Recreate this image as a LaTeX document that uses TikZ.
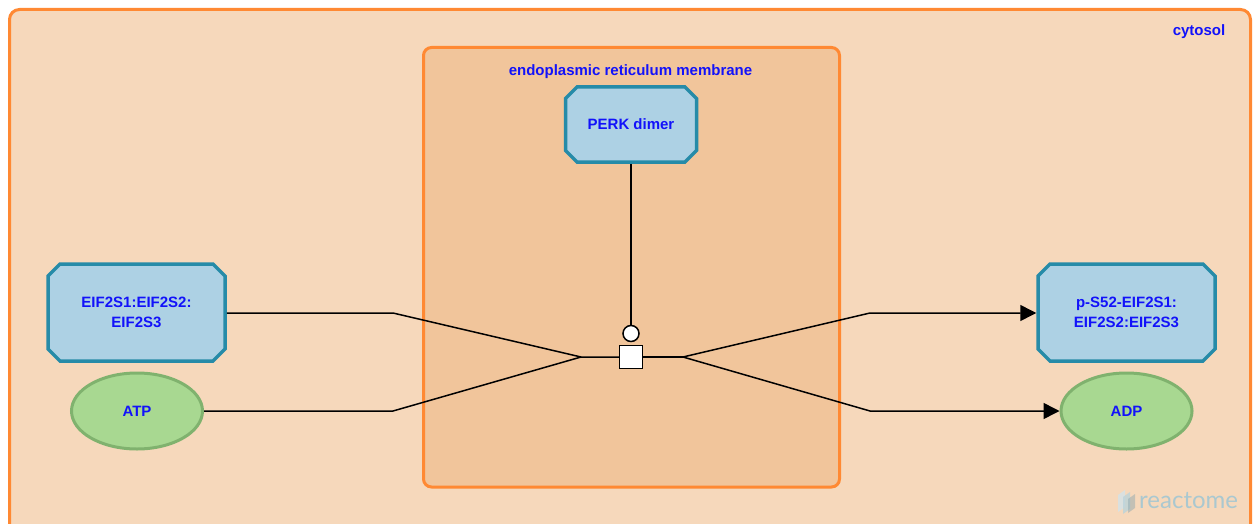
\documentclass[tikz,border=0pt]{standalone}
\usepackage{fontspec}
\setmainfont{Liberation Sans}
\newfontfamily\logofont{Lato}
\usepackage{xcolor}
\usepackage{tikz}
\usetikzlibrary{arrows.meta,shapes.misc,shapes.geometric}
\definecolor{cytoFill}{RGB}{246,216,187}
\definecolor{erFill}{RGB}{241,197,155}
\definecolor{compBorder}{RGB}{255,137,51}
\definecolor{cxFill}{RGB}{173,209,228}
\definecolor{cxBorder}{RGB}{38,139,168}
\definecolor{smFill}{RGB}{168,216,145}
\definecolor{smBorder}{RGB}{128,178,110}
\definecolor{lblBlue}{RGB}{18,18,250}
\definecolor{logoCol}{RGB}{170,200,208}
\tikzset{
  CXnode/.style={chamfered rectangle,chamfered rectangle xsep=6pt,chamfered rectangle ysep=6pt,
    draw=cxBorder,fill=cxFill,line width=3.5pt,inner sep=0pt,text=lblBlue,align=center,
    font=\fontsize{15}{20}\selectfont\bfseries},
  SMnode/.style={ellipse,draw=smBorder,fill=smFill,line width=3pt,inner sep=0pt,text=lblBlue,
    minimum width=131pt,minimum height=76pt,font=\fontsize{15}{20}\selectfont\bfseries},
  CMPlabel/.style={text=lblBlue,font=\fontsize{15}{17}\selectfont\bfseries},
  RXNnode/.style={draw=black,fill=white,line width=1.5pt,minimum size=23pt,inner sep=0pt},
  CATnode/.style={circle,draw=black,fill=white,line width=1.5pt,minimum size=16pt,inner sep=0pt},
  flow/.style={line width=1.5pt,draw=black},
}
\begin{document}
\begin{tikzpicture}[x=1pt,y=-1pt]
	\useasboundingbox (0,0) rectangle (1255,524);
	% compartments
	\draw[fill=cytoFill,draw=compBorder,line width=3pt,rounded corners=10pt] (9.5,9.5) rectangle (1250.5,545);
	\draw[fill=erFill,draw=compBorder,line width=3pt,rounded corners=8pt] (423.5,47.5) rectangle (839.5,487);
	\node[CMPlabel] (cyto) at (1199,32) {cytosol};
	\node[CMPlabel] (erm) at (630.5,72) {endoplasmic reticulum membrane};
	%
	\node[CXnode,minimum width=177pt,minimum height=97pt] (eif) at (136.5,312.5) {EIF2S1:EIF2S2:\\EIF2S3};
	\node[CXnode,minimum width=177pt,minimum height=97pt] (peif) at (1126.5,312.5) {p-S52-EIF2S1:\\EIF2S2:EIF2S3};
	\node[CXnode,minimum width=131pt,minimum height=75pt] (perk) at (631,124.5) {PERK dimer};
	\node[SMnode] (atp) at (137,411) {ATP};
	\node[SMnode] (adp) at (1126.5,411) {ADP};
	\node[RXNnode] (rxn) at (631,357) {};
	\node[CATnode] (cat) at (631,333.5) {};
	%
	\coordinate (eifB) at (393,313);
	\coordinate (atpB) at (393,411);
	\coordinate (inL) at (581,357);
	\coordinate (outR) at (683,357);
	\coordinate (peifB) at (870,313);
	\coordinate (adpB) at (870,411);
	%
	\draw[flow] (eif.east |- eifB) -- (eifB) -- (inL) -- (rxn.west);
	\draw[flow] (atp.east) -- (atpB) -- (inL);
	\draw[flow] (rxn.east) -- (outR);
	\draw[flow,-{Triangle[length=16pt,width=16pt]}] (outR) -- (peifB) -- (peif.west |- peifB);
	\draw[flow,-{Triangle[length=16pt,width=16pt]}] (outR) -- (adpB) -- (adp.west);
	\draw[flow] (perk.south) -- (cat.north);
	% logo
	\fill[logoCol!50,opacity=.8] (1118,495) -- (1125,490) -- (1125,507) -- (1118,512) -- cycle;
	\fill[logoCol!80,opacity=.8] (1123,497) -- (1130,492) -- (1130,509) -- (1123,514) -- cycle;
	\fill[logoCol!85!black,opacity=.5] (1128,499) -- (1135,494) -- (1135,508) -- (1128,513) -- cycle;
	\node[text=logoCol,font=\logofont\fontsize{24}{24}\selectfont,anchor=west,inner sep=0pt] (logo) at (1139,501) {reactome};
\end{tikzpicture}
\end{document}
